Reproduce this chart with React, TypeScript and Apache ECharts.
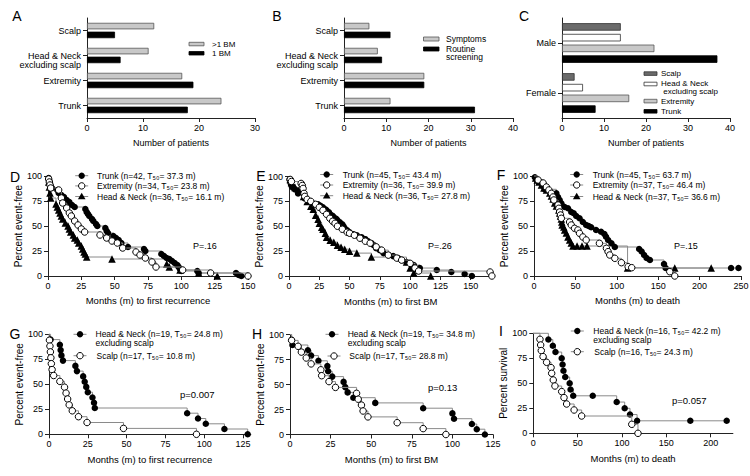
import React, { useEffect, useRef } from "react";
import * as echarts from "echarts";

// ---------------- data ----------------
const siteCategories = ["Scalp", "Head & Neck\nexcluding scalp", "Extremity", "Trunk"];
const moreThanOneBM = [12, 11, 17, 24];
const oneBM = [5, 6, 19, 18];
const symptoms = [6, 8, 19, 11];
const routineScreening = [11, 9, 19, 31];
const sexCategories = ["Male", "Female"];
const sexScalp = [14, 3];
const sexHeadNeck = [14, 5];
const sexExtremity = [22, 16];
const sexTrunk = [37, 8];

// D: months to first recurrence
const dTrunk = [[0,100],[0.5,98],[1,95],[1.5,93],[2,90],[3,88],[7,86],[8,83],[10,81],[12,79],[14,76],[16,74],[18,71],[20,69],[28,67],[29,64],[30,62],[31,60],[33,57],[34,55],[36,52],[37,50],[43,48],[44,45],[45,43],[49,40],[51,38],[53,36],[55,33],[60,29],[72,27],[73,25],[85,22],[87,20],[89,18],[91,17],[93,15],[95,13],[97,11],[98,9],[99,7],[100,5],[112,5],[113,3],[141,3],[143,1],[145,0]];
const dExtremity = [[0,100],[0.5,97],[1,94],[1.5,91],[2,88],[8,86],[10,78],[11,73],[14,68],[16,63],[17.5,60],[20,55],[22.5,51],[25,47],[27.5,44],[39,41],[44,38],[48,35],[52,33],[56,28],[66,24],[69,21],[73,18],[78,14],[81,9],[101,6],[122,3],[150,0]];
const dHeadNeck = [[0,100],[0.5,94],[1,89],[1.5,83],[2,78],[6,72],[7,69],[8,66],[9,63],[10,60],[11,57],[13,53],[15,50],[16,47],[17,44],[19,41],[20,38],[22,36],[23,33],[25,30],[26,27],[27,24],[28,22],[29,19],[48,17],[89,12],[91,9],[99,6],[113,3],[127,0]];

// E: months to first BM
const eTrunk = [[0,100],[0.5,97],[1,95],[1.5,93],[2,91],[3,89],[5,87],[7.5,83],[13,78],[18.5,74],[24,72],[26,70.5],[28,69],[30,67],[31,66],[33,64],[34,62],[36,60.5],[37,59],[39,57.5],[40,56],[42,54],[44,52],[45,50],[46,48],[48,46],[50,44],[53,42],[56,41],[60,39],[63,37],[65,35],[68,33],[70,31],[72,28],[75,26],[78,23],[82,21],[86,20],[90,18],[93,16],[97,14],[103,11],[108,8],[122,6],[134,4],[145,2],[151,0]];
const eExtremity = [[0,100],[1,97],[2,95],[10,93],[11,91],[11.6,88],[12.4,83],[13,80],[15,77],[18,75],[22,72],[25,69],[28,66],[31,62],[33.7,58],[36,55],[38,53],[40,50],[44,47],[48,44],[50,43],[54,41],[58.6,38],[63,35],[67,33],[72,29.3],[76.5,26],[82,21],[89,18],[93,16],[100,12.7],[104,8],[107,5],[166,4],[167.5,0]];
const eHeadNeck = [[0,100],[1,97],[2,94],[3,92],[5,89],[8,86],[12,80],[15,75],[18,70],[20,67],[22,61],[24,57],[25,53],[27,49],[28,47],[30,43],[31,39],[34,36],[37,34],[40,31],[43,29],[46,27],[50,25],[56,23],[68,19],[97,14],[100,8],[103,3],[117,0]];

// F: months to death
const fTrunk = [[0,100],[1,98.7],[3,96.7],[5,95],[7,94],[9,92.7],[11,90],[13,86.7],[27,82.7],[29,79],[31,76],[33,72.7],[37,69],[41,67.7],[45,64],[48,62.7],[51,60],[55,57.7],[59,54],[63,51],[66,50],[69,48.7],[75,46],[81,44.3],[85,42],[87,39.3],[89.5,36],[93.5,32.7],[97.6,29],[127,27],[130,24.5],[133,21],[136,18],[140,16],[157,12],[159,8],[238,8],[247,8]];
const fExtremity = [[0,100],[5,96],[11,93],[15,89],[18,86],[21,82.7],[23,79],[24,76],[29,71],[30,67.7],[31,64],[32,61],[33,57.7],[43,54],[45,51],[49,47.7],[53,46],[55,42.7],[59,39],[63,36],[79,32.7],[87.5,27.7],[89.5,24.3],[91.5,21],[97.6,17.7],[105.6,13.3],[113.7,9.3],[118,8.3],[164,4.3],[170,0]];
const fHeadNeck = [[0,100],[2,98],[4,96],[6,94],[9,91],[12,88],[15,86],[19,83],[21,80],[23,77],[25,73],[27,70],[30,66],[31,63],[32,60],[33,57],[33.5,54],[34,51],[36,49],[37,46],[39,43],[41,39],[43,36],[45,33],[47,30],[52,30],[58,30],[64,30],[113,8],[170,8],[214,8]];

// G: months to first recurrence (H&N vs scalp)
const gHeadNeck = [[0,100],[1,94.7],[7,89.5],[7.5,84.2],[8,78.9],[9,73.7],[17,68.4],[18,63.2],[22,57.9],[23,52.6],[24,47.4],[25,42.1],[28,36.8],[29,31.6],[29.5,26.3],[89,21.1],[96,15.8],[101,10.5],[113,5.3],[128,0]];
const gScalp = [[0,100],[0.3,94.1],[0.6,88.2],[0.9,82.4],[1.2,76.5],[1.5,70.6],[2,64.7],[3,58.8],[7,52.9],[10,47.1],[11,41.2],[12,35.3],[13,29.4],[15,23.5],[19,17.6],[24.5,11.8],[48,5.9],[95,0]];

// H: months to first BM (H&N vs scalp)
const hHeadNeck = [[0,100],[1,94.7],[1.5,89.5],[11,84.2],[13,78.9],[17.5,73.7],[23,68.4],[23.5,63.2],[26,57.9],[33,52.6],[34,47.4],[35.5,42.1],[39,36.8],[52.5,31.6],[82,26.3],[100,21.1],[101,15.8],[112,10.5],[115,5.3],[120,0]];
const hScalp = [[0,100],[1,94.1],[5,88.2],[7,82.4],[10,76.5],[13,70.6],[19,64.7],[19.5,58.8],[24,52.9],[28,47.1],[41,41.2],[42,35.3],[44,29.4],[45,23.5],[48,17.6],[66,11.8],[82,5.9],[96,0]];

// I: months to death (H&N vs scalp)
const iHeadNeck = [[0,100],[17,93.75],[22,87.5],[25,81.25],[32,75],[33,68.75],[34,62.5],[36,56.25],[41,50],[42,43.75],[45,37.5],[67,37.5],[94,31.25],[103,25],[109,18.75],[117,12.5],[177,12.5],[218,12.5]];
const iScalp = [[0,100],[7.5,94],[8.3,88.3],[9,82.7],[11,76.7],[15,71],[20,65.7],[20.7,60],[22.5,53.3],[24.4,47.3],[32,41.7],[34.6,35.7],[37.6,29.3],[46,23.3],[54.5,17.3],[111,9],[118,0]];

const kmYTicks = [0, 25, 50, 75, 100];
const eXTicks = [0, 25, 50, 75, 100, 125, 150];
const gXTicks = [0, 25, 50, 75, 100, 125];
const iXTicks = [0, 50, 100, 150, 200];

// ---------------- styling ----------------
const FONT = '"Liberation Sans", Arial, Helvetica, sans-serif';
const AX = "#222";
const LINE_GRAY = "#8a8a8a";
const TICK_FS = 9;

function xVal(gi: number, max: number, interval: number, name: string, gap: number, nameFs: number, custom?: number[]) {
  const a: any = {
    type: "value", gridIndex: gi, min: 0, max, interval,
    name, nameLocation: "middle", nameGap: gap,
    nameTextStyle: { fontSize: nameFs, color: "#000", fontFamily: FONT },
    axisLine: { show: true, onZero: false, lineStyle: { color: AX, width: 1 } },
    axisTick: { show: true, length: 4, inside: false, lineStyle: { color: AX, width: 1 } },
    axisLabel: { show: true, fontSize: TICK_FS, color: "#000", fontFamily: FONT, margin: 5 },
    splitLine: { show: false },
  };
  if (custom) {
    a.axisTick.customValues = custom;
    a.axisLabel.customValues = custom;
  }
  return a;
}

function yKM(gi: number, name: string, gap: number) {
  return {
    type: "value", gridIndex: gi, min: 0, max: 100, interval: 25,
    name, nameLocation: "middle", nameGap: gap,
    nameTextStyle: { fontSize: 10, color: "#000", fontFamily: FONT },
    axisLine: { show: true, onZero: false, lineStyle: { color: AX, width: 1 } },
    axisTick: { show: true, length: 4, lineStyle: { color: AX, width: 1 }, customValues: kmYTicks },
    axisLabel: { show: true, fontSize: TICK_FS, color: "#000", fontFamily: FONT, margin: 6, customValues: kmYTicks },
    splitLine: { show: false },
  };
}

function yCat(gi: number, cats: string[]) {
  return {
    type: "category", gridIndex: gi, inverse: true,
    data: cats,
    axisLine: { show: true, onZero: false, lineStyle: { color: AX, width: 1 } },
    axisTick: { show: true, alignWithLabel: true, length: 4, lineStyle: { color: AX, width: 1 } },
    axisLabel: {
      interval: 0, fontSize: 9, color: "#000", fontFamily: FONT, margin: 6, lineHeight: 9,
      // keep the first line of a two-line label on the tick, as in the reference
      formatter: (v: string) => (v.indexOf("\n") >= 0 ? " \n" + v : v),
    },
    splitLine: { show: false },
  };
}

function bar(gi: number, name: string, data: number[], fill: string, border: string, w: number, gap?: string) {
  const s: any = {
    type: "bar", name, xAxisIndex: gi, yAxisIndex: gi, data, barWidth: w,
    itemStyle: { color: fill, borderColor: border, borderWidth: 0.8 },
    silent: true,
  };
  if (gap) s.barGap = gap;
  return s;
}

function km(gi: number, data: number[][], kind: "fill" | "open" | "tri") {
  return {
    type: "line", xAxisIndex: gi, yAxisIndex: gi, step: "end",
    data: data.map((p, i) => (i === 0 && p[0] === 0 && p[1] === 100 ? { value: p, symbol: "none" } : p)),
    symbol: kind === "tri" ? "triangle" : "circle",
    symbolSize: kind === "tri" ? 7.5 : 6.5,
    showSymbol: true, showAllSymbol: true, clip: false, silent: true,
    lineStyle: { color: LINE_GRAY, width: 1 },
    itemStyle: kind === "open"
      ? { color: "#fff", borderColor: "#000", borderWidth: 1 }
      : { color: "#000", borderColor: "#000", borderWidth: 0 },
    emphasis: { disabled: true },
    z: kind === "open" ? 3 : 2,
  };
}

function buildOption() {
  const g: any[] = [];
  const txt = (x: number, y: number, text: string, size = 9, align = "left", lineHeight?: number) =>
    g.push({
      type: "text", x, y, silent: true,
      style: {
        text, fontSize: size, fontFamily: FONT, fill: "#000",
        align, textAlign: align, verticalAlign: "middle", textVerticalAlign: "middle",
        lineHeight: lineHeight || Math.round(size * 1.2),
      },
    });
  const swatch = (x: number, y: number, w: number, h: number, fill: string, stroke: string) =>
    g.push({ type: "rect", shape: { x, y, width: w, height: h }, style: { fill, stroke, lineWidth: 0.8 }, silent: true });
  const marker = (mx: number, y: number, kind: string) => {
    g.push({ type: "line", shape: { x1: mx - 6.5, y1: y, x2: mx + 6.5, y2: y }, style: { stroke: LINE_GRAY, lineWidth: 1 }, silent: true });
    if (kind === "tri") {
      g.push({ type: "polygon", shape: { points: [[mx, y - 3.8], [mx - 3.8, y + 2.7], [mx + 3.8, y + 2.7]] }, style: { fill: "#000" }, silent: true });
    } else {
      g.push({ type: "circle", shape: { cx: mx, cy: y, r: 3.2 }, style: kind === "open" ? { fill: "#fff", stroke: "#000", lineWidth: 1 } : { fill: "#000" }, silent: true });
    }
  };
  const legendRow = (mx: number, y: number, kind: string, tx: number, text: string) => {
    marker(mx, y, kind);
    txt(tx, y, text, 8.5);
  };
  const legendRow2 = (mx: number, y: number, kind: string, tx: number, text: string, lh: number) => {
    marker(mx, y, kind);
    txt(tx, y + lh / 2, text, 8.5, "left", lh);
  };

  // panel letters
  txt(17, 16, "A", 14, "center");
  txt(277, 16, "B", 14, "center");
  txt(524, 16, "C", 14, "center");
  txt(15, 177, "D", 14, "center");
  txt(261, 176, "E", 14, "center");
  txt(501, 175, "F", 14, "center");
  txt(15, 334, "G", 14, "center");
  txt(257, 334, "H", 14, "center");
  txt(501, 331, "I", 14, "center");

  // bar legends
  swatch(189, 42.3, 15, 3.5, "#c8c8c8", "#555");
  swatch(189, 51.5, 15, 3.5, "#000", "#000");
  txt(212, 44.2, ">1 BM", 8);
  txt(212, 53.6, "1 BM", 8);

  swatch(423.5, 37, 15.5, 4, "#c8c8c8", "#555");
  swatch(423.5, 47, 15.5, 4, "#000", "#000");
  txt(446, 39, "Symptoms", 8.5);
  txt(446, 53, "Routine\nscreening", 8.5, "left", 8.8);

  swatch(644, 71.8, 13, 3.6, "#6b6b6b", "#333");
  swatch(644, 82.2, 13, 3.6, "#fff", "#333");
  swatch(644, 99.3, 13, 3.6, "#c8c8c8", "#555");
  swatch(644, 109.5, 13, 3.6, "#000", "#000");
  txt(661, 73.6, "Scalp", 8);
  txt(661, 87.8, "Head & Neck\n excluding scalp", 8, "left", 8.3);
  txt(661, 101.4, "Extremity", 8);
  txt(661, 111.5, "Trunk", 8);

  // KM legends
  legendRow(81.7, 175.7, "fill", 97, "Trunk (n=42, T₅₀= 37.3 m)");
  legendRow(81.7, 185.9, "open", 97, "Extremity (n=34, T₅₀= 23.8 m)");
  legendRow(81.7, 196.5, "tri", 97, "Head & Neck (n=36, T₅₀= 16.1 m)");

  legendRow(326.7, 174.5, "fill", 342.7, "Trunk (n=45, T₅₀= 43.4 m)");
  legendRow(326.7, 185, "open", 342.7, "Extremity (n=36, T₅₀= 39.9 m)");
  legendRow(326.7, 195.7, "tri", 342.7, "Head & Neck (n=36, T₅₀= 27.8 m)");

  legendRow(576.7, 174.5, "fill", 592.7, "Trunk (n=45, T₅₀= 63.7 m)");
  legendRow(576.7, 185, "open", 592.7, "Extremity (n=37, T₅₀= 46.4 m)");
  legendRow(576.7, 196.5, "tri", 592.7, "Head & Neck (n=37, T₅₀= 36.6 m)");

  legendRow2(80, 334.3, "fill", 95.5, "Head & Neck (n=19, T₅₀= 24.8 m)\nexcluding scalp", 8.5);
  legendRow(80, 355.7, "open", 96.5, "Scalp (n=17, T₅₀= 10.8 m)");

  legendRow2(332, 334.3, "fill", 347.7, "Head & Neck (n=19, T₅₀= 34.8 m)\nexcluding scalp", 8.7);
  legendRow(334, 356, "open", 349.3, "Scalp (n=17, T₅₀= 28.8 m)");

  legendRow2(577.3, 331, "fill", 593.3, "Head & Neck (n=16, T₅₀= 42.2 m)\nexcluding scalp", 8.5);
  legendRow(577.3, 351.7, "open", 594.3, "Scalp (n=16, T₅₀= 24.3 m)");

  // p-values
  txt(193, 246, "P=.16", 9);
  txt(428, 245.5, "P=.26", 9);
  txt(674, 245.5, "P=.15", 9);
  txt(180, 394.3, "p=0.007", 9.5);
  txt(428, 387.7, "p=0.13", 9.5);
  txt(672, 400, "p=0.057", 9.5);

  const grids = [
    { left: 87, top: 18, width: 168, height: 100 },
    { left: 344, top: 18, width: 169, height: 100 },
    { left: 562, top: 18, width: 168, height: 100 },
    { left: 48, top: 176, width: 200, height: 100 },
    { left: 289, top: 176.5, width: 203.5, height: 99.5 },
    { left: 534, top: 176, width: 207, height: 100 },
    { left: 49, top: 334.3, width: 201.8, height: 100 },
    { left: 290, top: 334.5, width: 203, height: 100 },
    { left: 533.3, top: 333.3, width: 199.6, height: 100 },
  ].map((gr) => ({ ...gr, containLabel: false, outerBoundsMode: "none", show: false }));

  const xAxis = [
    xVal(0, 30, 10, "Number of patients", 20, 9),
    xVal(1, 40, 10, "Number of patients", 20, 9),
    xVal(2, 40, 10, "Number of patients", 20, 9),
    xVal(3, 150, 25, "Months (m) to first recurrence", 19, 9.5),
    xVal(4, 168, 25, "Months (m) to first BM", 20, 9.5, eXTicks),
    xVal(5, 250, 50, "Months (m) to death", 19, 9.5),
    xVal(6, 130, 25, "Months (m) to first recurrence", 20, 9.5, gXTicks),
    xVal(7, 125, 25, "Months (m) to first BM", 20, 9.5),
    xVal(8, 225, 50, "Months (m) to death", 20, 9.5, iXTicks),
  ];
  const yAxis = [
    yCat(0, siteCategories),
    yCat(1, siteCategories),
    yCat(2, sexCategories),
    yKM(3, "Percent event-free", 20),
    yKM(4, "Percent event-free", 20),
    yKM(5, "Percent event-free", 20),
    yKM(6, "Percent event-free", 21),
    yKM(7, "Percent event-free", 21),
    yKM(8, "Percent survival", 21),
  ];

  const series: any[] = [
    bar(0, ">1 BM", moreThanOneBM, "#c8c8c8", "#555", 6.5, "36%"),
    bar(0, "1 BM", oneBM, "#000", "#000", 6.5),
    bar(1, "Symptoms", symptoms, "#c8c8c8", "#555", 6.5, "36%"),
    bar(1, "Routine screening", routineScreening, "#000", "#000", 6.5),
    bar(2, "Scalp", sexScalp, "#6b6b6b", "#333", 7.5, "43%"),
    bar(2, "Head & Neck excluding scalp", sexHeadNeck, "#fff", "#333", 7.5),
    bar(2, "Extremity", sexExtremity, "#c8c8c8", "#555", 7.5),
    bar(2, "Trunk", sexTrunk, "#000", "#000", 7.5),
    km(3, dTrunk, "fill"), km(3, dExtremity, "open"), km(3, dHeadNeck, "tri"),
    km(4, eTrunk, "fill"), km(4, eExtremity, "open"), km(4, eHeadNeck, "tri"),
    km(5, fTrunk, "fill"), km(5, fExtremity, "open"), km(5, fHeadNeck, "tri"),
    km(6, gHeadNeck, "fill"), km(6, gScalp, "open"),
    km(7, hHeadNeck, "fill"), km(7, hScalp, "open"),
    km(8, iHeadNeck, "fill"), km(8, iScalp, "open"),
  ];

  return {
    animation: false,
    backgroundColor: "#fff",
    textStyle: { fontFamily: FONT },
    grid: grids,
    xAxis,
    yAxis,
    series,
    graphic: { elements: g },
  };
}

export default function App() {
  const ref = useRef<HTMLDivElement>(null);
  useEffect(() => {
    document.body.style.margin = "0";
    const chart = echarts.init(ref.current!, null, { renderer: "svg" });
    chart.setOption(buildOption() as any);
    return () => chart.dispose();
  }, []);
  return <div ref={ref} style={{ width: 750, height: 476, background: "#fff" }} />;
}
